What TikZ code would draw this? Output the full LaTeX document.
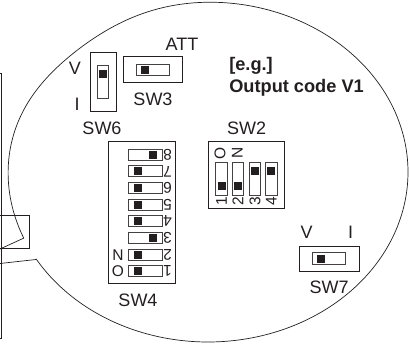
\documentclass[tikz,border=0pt]{standalone}
\usepackage{fontspec}
\setmainfont{Liberation Sans}
\definecolor{ink}{HTML}{231F20}
\tikzset{
  every node/.style={inner sep=0pt,outer sep=0pt,text=ink},
  lab/.style={font=\fontsize{18}{18}\selectfont},
  big/.style={font=\bfseries\fontsize{18.2}{18.2}\selectfont,anchor=west},
  small/.style={font=\fontsize{15.5}{15.5}\selectfont},
  slot/.style={draw=ink!85,line width=0.95pt},
  box/.style={draw=ink,line width=1pt},
  knob/.style={fill=ink,minimum width=8pt,minimum height=8pt},
}
\begin{document}
\begin{tikzpicture}[x=1pt,y=-1pt]
\useasboundingbox (0,0) rectangle (409,343);
\draw[ink,line width=0.7pt] plot[domain=157.1:509.3,samples=200,smooth] ({208+200*(1-0.03*exp(-((\x-228)/24)^2))*cos(\x)},{172+170*(1-0.03*exp(-((\x-228)/24)^2))*sin(\x)});
\coordinate (arcstart) at (24,238);
\coordinate (tailA) at (0,249);
\coordinate (tailB) at (0,263.5);
\coordinate (arcfin) at (36,259.5);
\draw[ink,line width=0.7pt] (arcstart) -- (tailA);
\draw[ink,line width=0.7pt] (tailB) -- (arcfin);
% left housing
\coordinate (hA) at (0,73);
\coordinate (hB) at (1.5,73);
\coordinate (hC) at (1.5,338.5);
\coordinate (hD) at (0,338.5);
\draw[ink,line width=1pt] (hA) -- (hB) -- (hC) -- (hD);
\coordinate (tA) at (0,215.5);
\coordinate (tB) at (29.5,215.5);
\coordinate (tC) at (29.5,248.5);
\coordinate (tD) at (0,248.5);
\draw[ink,line width=1pt] (tA) -- (tB) -- (tC) -- (tD);
% SW6
\node[box,minimum width=26pt,minimum height=59pt] (sw6) at (103,81.5) {};
\node[slot,minimum width=11pt,minimum height=33.5pt] (sw6s) at (103,81.75) {};
\node[knob] (sw6k) at (103,74) {};
\node[lab] (lV) at (75,68) {V};
\node[lab] (lI) at (77,104) {I};
\node[lab] (l6) at (102,128) {SW6};
% SW3
\node[box,minimum width=59pt,minimum height=26pt] (sw3) at (152.5,69.5) {};
\node[slot,minimum width=33.5pt,minimum height=11.5pt] (sw3s) at (152.75,69.75) {};
\node[knob] (sw3k) at (145,70) {};
\node[lab] (lA) at (182,44) {ATT};
\node[lab] (l3) at (153,99) {SW3};
% text
\node[big] (eg) at (229.3,66) {[e.g.]};
\node[big] (oc) at (229.3,88) {Output code V1};
% SW4
\node[box,minimum width=67pt,minimum height=142pt] (sw4) at (141.5,212.5) {};
\foreach \n/\kx in {1/138,2/138,3/153,4/138,5/138,6/138,7/138,8/153}{
  \node[slot,minimum width=33.5pt,minimum height=11pt] (s4\n) at (145.25,{271.2-16.64*(\n-1)}) {};
  \node[knob] (k4\n) at (\kx,{271.2-16.64*(\n-1)}) {};
  \node[small,rotate=180] (d4\n) at (167.5,{271.2-16.64*(\n-1)}) {\n};
}
\node[small] (o4) at (118,271) {O};
\node[small] (n4) at (118,255) {N};
\node[lab] (l4) at (138,300) {SW4};
% SW2
\node[box,minimum width=76pt,minimum height=66.5pt] (sw2) at (246.5,174.75) {};
\foreach \n/\cx/\ky in {1/221.6/186,2/238/186,3/255/171.3,4/271.4/171.3}{
  \node[slot,minimum width=11.3pt,minimum height=33pt] (s2\n) at (\cx,178.8) {};
  \node[knob] (k2\n) at (\cx,\ky) {};
  \node[small,rotate=90] (d2\n) at (\cx,201.5) {\n};
}
\node[small,rotate=90] (o2) at (220,153) {O};
\node[small,rotate=90] (n2) at (237.3,153) {N};
\node[lab] (l2) at (246.7,128) {SW2};
% SW7
\node[box,minimum width=60pt,minimum height=25.7pt] (sw7) at (329,258.85) {};
\node[slot,minimum width=33.4pt,minimum height=11.6pt] (sw7s) at (329,258.5) {};
\node[knob] (k7) at (321.2,259) {};
\node[lab] (v7) at (306.7,232.7) {V};
\node[lab] (i7) at (350.7,232.7) {I};
\node[lab] (l7) at (329,287) {SW7};
\end{tikzpicture}
\end{document}
